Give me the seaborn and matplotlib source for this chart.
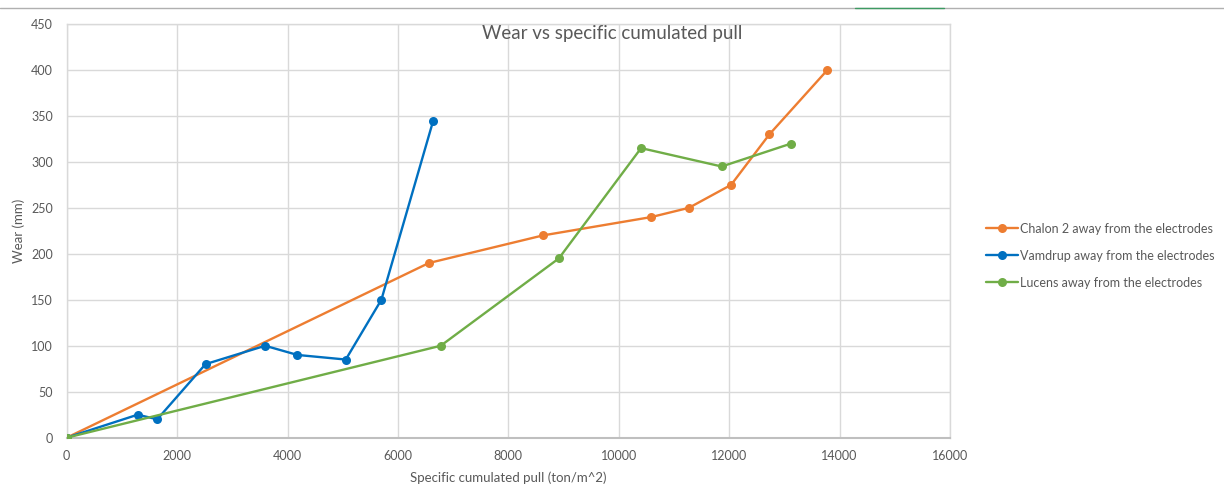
import matplotlib
matplotlib.use("Agg")
import matplotlib.pyplot as plt
from matplotlib.lines import Line2D
import seaborn as sns
import pandas as pd

# Specific cumulated pull (ton/m^2) and wear (mm) for each site
chalon_x = [0, 6560, 8625, 10590, 11270, 12035, 12730, 13780]
chalon_y = [0, 190, 220, 240, 250, 275, 330, 400]

vamdrup_x = [0, 1285, 1640, 2515, 3595, 4180, 5055, 5700, 6640]
vamdrup_y = [0, 25, 20, 80, 100, 90, 85, 150, 345]

lucens_x = [0, 6775, 8915, 10405, 11865, 13125]
lucens_y = [0, 100, 195, 315, 295, 320]

series_names = [
    "Chalon 2 away from the electrodes",
    "Vamdrup away from the electrodes",
    "Lucens away from the electrodes",
]
series_colors = ["#ED7D31", "#0070C0", "#70AD47"]

x_ticks = list(range(0, 16001, 2000))
y_ticks = list(range(0, 451, 50))

sns.set_theme(style="white")
plt.rcParams["font.family"] = ["Lato", "DejaVu Sans"]

text_color = "#595959"
grid_color = "#d9d9d9"

fig = plt.figure(figsize=(12.24, 4.95), dpi=100)
ax = fig.add_axes([0.0545, 0.1158, 0.7216, 0.8357])

frames = []
for name, xs, ys in zip(series_names,
                        [chalon_x, vamdrup_x, lucens_x],
                        [chalon_y, vamdrup_y, lucens_y]):
    frames.append(pd.DataFrame({"pull": xs, "wear": ys, "series": name}))
df = pd.concat(frames, ignore_index=True)

for name, color in zip(series_names, series_colors):
    sub = df[df["series"] == name]
    sns.lineplot(data=sub, x="pull", y="wear", ax=ax, color=color,
                 marker="o", markersize=6.5, markeredgewidth=0,
                 linewidth=1.7, sort=False, label=name, zorder=3)

ax.set_xlim(0, 16000)
ax.set_ylim(0, 450)
ax.set_xticks(x_ticks)
ax.set_yticks(y_ticks)
ax.set_xticklabels([str(t) for t in x_ticks])
ax.set_yticklabels([str(t) for t in y_ticks])
ax.tick_params(axis="both", colors=text_color, labelsize=9, length=0)
ax.tick_params(axis="x", pad=9)
ax.tick_params(axis="y", pad=10)

ax.grid(True, color=grid_color, linewidth=1.0)
ax.set_axisbelow(True)
for side in ["top", "right", "left"]:
    ax.spines[side].set_color(grid_color)
    ax.spines[side].set_linewidth(1.0)
ax.spines["bottom"].set_color("#bfbfbf")
ax.spines["bottom"].set_linewidth(1.5)

ax.set_xlabel("Specific cumulated pull (ton/m^2)", color=text_color,
              fontsize=9.5, labelpad=7)
ax.set_ylabel("Wear (mm)", color=text_color, fontsize=9.5, labelpad=4)

fig.text(0.5, 0.933, "Wear vs specific cumulated pull", ha="center",
         va="center", color=text_color, fontsize=13.5)

leg = ax.legend(loc="center left", bbox_to_anchor=(1.028, 0.44),
                frameon=False, fontsize=9, handlelength=2.6,
                handletextpad=0.15, labelspacing=1.2)
for txt in leg.get_texts():
    txt.set_color(text_color)

# thin rule across the top edge with a short green accent
fig.add_artist(Line2D([0, 1], [0.984, 0.984], transform=fig.transFigure,
                      color="#b0b0b0", linewidth=1.0))
fig.add_artist(Line2D([855 / 1224, 944 / 1224], [0.984, 0.984],
                      transform=fig.transFigure, color="#3d9a62",
                      linewidth=1.0))

fig.savefig("out.png", dpi=100)
